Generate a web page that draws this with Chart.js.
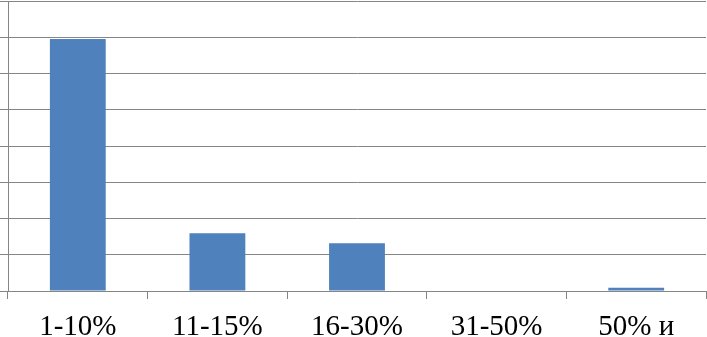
<!DOCTYPE html>
<html>
<head>
<meta charset="utf-8">
<script src="https://cdn.jsdelivr.net/npm/chart.js@4/dist/chart.umd.min.js"></script>
<style>
    html, body { margin: 0; padding: 0; background: #fff; }
    #wrap { width: 707px; height: 337px; }
</style>
</head>
<body>
<div id="wrap"><canvas id="myChart"></canvas></div>
<script>
// data (percent of respondents)
const categories = ['1-10%', '11-15%', '16-30%', '31-50%', '50% и'];
const values = [69.5, 15.9, 13.2, 0, 0.9];
const yMax = 80;
const yStep = 10;

const gridColor = '#858585';

const ctx = document.getElementById('myChart').getContext('2d');
const myChart = new Chart(ctx, {
    type: 'bar',
    data: {
        labels: categories,
        datasets: [{
            data: values,
            backgroundColor: '#4f81bd',
            borderWidth: 0,
            barPercentage: 0.8,
            categoryPercentage: 0.5
        }]
    },
    options: {
        responsive: true,
        maintainAspectRatio: false,
        animation: false,
        layout: { padding: { top: 1, right: 1, left: 0, bottom: 0 } },
        plugins: {
            legend: { display: false },
            tooltip: { enabled: false }
        },
        scales: {
            x: {
                grid: {
                    display: true,
                    drawOnChartArea: false,
                    offset: true,
                    color: gridColor,
                    tickLength: 8
                },
                border: { color: gridColor, width: 1 },
                ticks: {
                    color: '#000',
                    padding: 11,
                    maxRotation: 0,
                    font: { family: '"Liberation Serif", "Times New Roman", serif', size: 29 }
                },
                afterFit: (scale) => { scale.height = 46; }
            },
            y: {
                min: 0,
                max: yMax,
                grid: {
                    color: gridColor,
                    tickLength: 8
                },
                border: { color: gridColor, width: 1 },
                ticks: {
                    display: false,
                    stepSize: yStep
                },
                afterFit: (scale) => { scale.width = 8; }
            }
        }
    }
});
</script>
</body>
</html>
